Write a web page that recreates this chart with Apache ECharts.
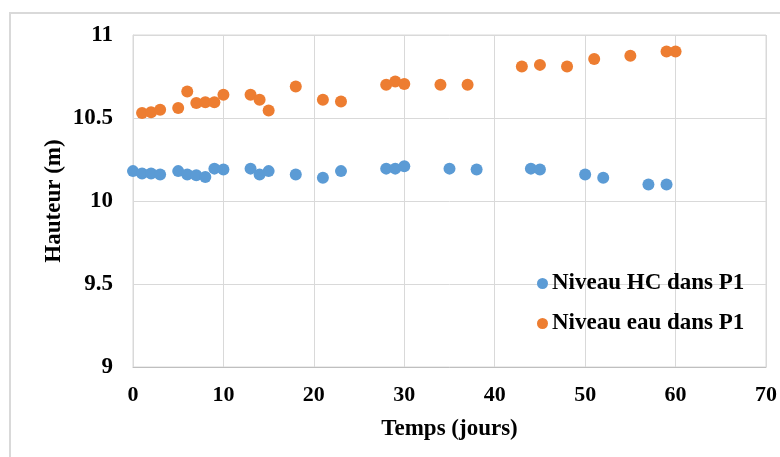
<!DOCTYPE html>
<html>
<head>
<meta charset="utf-8">
<script src="https://cdn.jsdelivr.net/npm/echarts@6/dist/echarts.min.js"></script>
<style>
html,body{margin:0;padding:0;background:#fff;}
#c{width:780px;height:457px;}
</style>
</head>
<body>
<div id="c"></div>
<script>
// Data
var seriesNames = ['Niveau HC dans P1', 'Niveau eau dans P1'];
var hcDays = [0,1,2,3,5,6,7,8,9,10,13,14,15,18,21,23,28,29,30,35,38,44,45,50,52,57,59];
var hcLevel = [10.18,10.165,10.165,10.16,10.18,10.16,10.155,10.145,10.195,10.19,10.195,10.16,10.18,10.16,10.14,10.18,10.195,10.195,10.21,10.195,10.19,10.195,10.19,10.16,10.14,10.10,10.10];
var eauDays = [1,2,3,5,6,7,8,9,10,13,14,15,18,21,23,28,29,30,34,37,43,45,48,51,55,59,60];
var eauLevel = [10.53,10.535,10.55,10.56,10.66,10.59,10.595,10.595,10.64,10.64,10.61,10.545,10.69,10.61,10.60,10.70,10.72,10.705,10.70,10.70,10.81,10.82,10.81,10.855,10.875,10.90,10.90];
var xTitle = 'Temps (jours)';
var yTitle = 'Hauteur (m)';

function pairs(xs, ys){ return xs.map(function(x,i){ return [x, ys[i]]; }); }

var font = '"Liberation Serif","Times New Roman",serif';
var chart = echarts.init(document.getElementById('c'), null, {renderer:'canvas'});
chart.setOption({
  animation: false,
  backgroundColor: '#fff',
  graphic: [{
    type: 'rect', silent: true, z: -1,
    shape: {x: 10, y: 13, width: 800, height: 480},
    style: {fill: 'none', stroke: '#d9d9d9', lineWidth: 2}
  }],
  grid: {left: 133, right: 13, top: 35, bottom: 90, show: true, borderColor: '#d9d9d9', borderWidth: 1},
  xAxis: {
    type: 'value', min: 0, max: 70, interval: 10,
    name: xTitle, nameLocation: 'middle', nameGap: 51, nameMoveOverlap: false,
    nameTextStyle: {fontFamily: font, fontWeight: 'bold', fontSize: 23, color: '#000'},
    axisLine: {show: true, lineStyle: {color: '#bfbfbf', width: 1}},
    axisTick: {show: false},
    axisLabel: {fontFamily: font, fontWeight: 'bold', fontSize: 22, color: '#000', margin: 17},
    splitLine: {show: true, lineStyle: {color: '#d9d9d9', width: 1}}
  },
  yAxis: {
    type: 'value', min: 9, max: 11, interval: 0.5,
    name: yTitle, nameLocation: 'middle', nameGap: 67, nameRotate: 90, nameMoveOverlap: false,
    nameTextStyle: {fontFamily: font, fontWeight: 'bold', fontSize: 23, color: '#000'},
    axisLine: {show: true, lineStyle: {color: '#d9d9d9', width: 1}},
    axisTick: {show: false},
    axisLabel: {fontFamily: font, fontWeight: 'bold', fontSize: 23, color: '#000', margin: 20},
    splitLine: {show: true, lineStyle: {color: '#d9d9d9', width: 1}}
  },
  legend: {
    orient: 'vertical', left: 532, top: 267, itemGap: 17,
    itemWidth: 11, itemHeight: 11, icon: 'circle',
    textStyle: {fontFamily: font, fontWeight: 'bold', fontSize: 23, color: '#000', padding: [0,0,0,-1]},
    data: seriesNames
  },
  series: [
    {name: seriesNames[0], type: 'scatter', symbolSize: 12, itemStyle: {color: '#5B9BD5', opacity: 1}, data: pairs(hcDays, hcLevel)},
    {name: seriesNames[1], type: 'scatter', symbolSize: 12, itemStyle: {color: '#ED7D31', opacity: 1}, data: pairs(eauDays, eauLevel)}
  ]
});
</script>
</body>
</html>
